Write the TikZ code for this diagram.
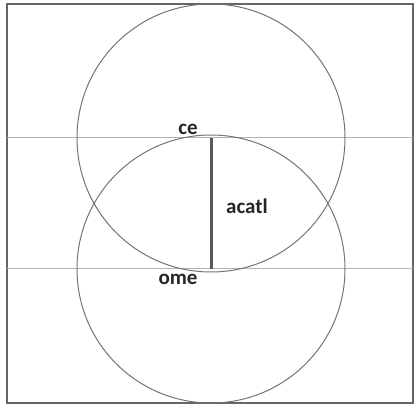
\documentclass[tikz,border=0pt]{standalone}
\usepackage{fontspec}
\setmainfont{Carlito}
\begin{document}
\begin{tikzpicture}[x=1pt,y=1pt,
	label text/.style={font=\fontsize{21}{25}\selectfont\bfseries, text=black!85, inner sep=0pt}]
	
	\useasboundingbox (0,0) rectangle (417,406);
	
	% Frame
	\draw[black!60, line width=2pt] (7,3) rectangle (413,402);
	
	% Centres
	\coordinate (ce) at (211,268);
	\coordinate (ome) at (211,137);
	
	% Horizontal lines
	\draw[black!30, line width=1pt] (7,268) -- (413,268);
	\draw[black!30, line width=1pt] (7,137) -- (413,137);
	
	% Circles
	\draw[black!55, line width=1pt] (ce) circle (134);
	\draw[black!55, line width=1pt] (ome) circle (134);
	
	% Axis
	\draw[black!65, line width=3pt] (ce) -- (ome);
	
	% Labels
	\node[label text] (celabel) at (188,277) {ce};
	\node[label text] (acatllabel) at (247,200) {acatl};
	\node[label text] (omelabel) at (178,127) {ome};
	
\end{tikzpicture}
\end{document}
